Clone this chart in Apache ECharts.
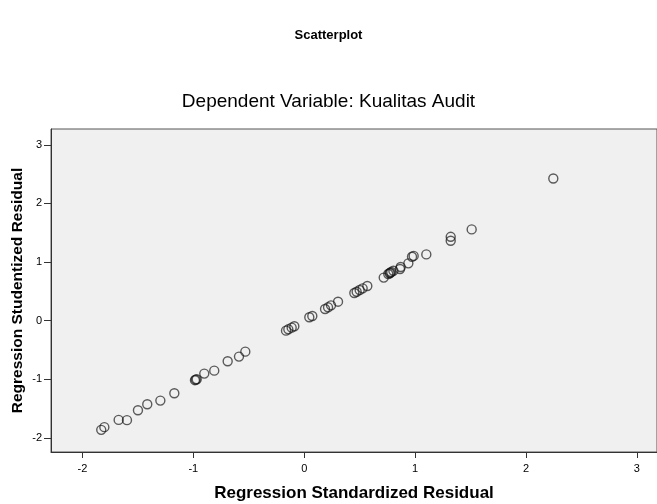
<!DOCTYPE html>
<html>
<head>
<meta charset="utf-8">
<script src="https://cdn.jsdelivr.net/npm/echarts@6/dist/echarts.min.js"></script>
<style>
  html, body { margin: 0; padding: 0; background: #fff; }
  #chart { width: 657px; height: 504px; }
</style>
</head>
<body>
<div id="chart"></div>
<script>
// standardized residual (x) vs studentized residual (y)
var stdResid = [-1.830, -1.802, -1.673, -1.598, -1.499, -1.415, -1.297, -1.171,
  -0.985, -0.978, -0.969, -0.901, -0.811, -0.690, -0.588, -0.531,
  -0.164, -0.143, -0.113, -0.089, 0.046, 0.073,
  0.188, 0.215, 0.242, 0.305, 0.452, 0.473, 0.500, 0.527, 0.569,
  0.717, 0.758, 0.770, 0.776, 0.785, 0.804, 0.864, 0.870, 0.939, 0.972, 0.987,
  1.101, 1.321, 1.321, 1.510, 2.246];
var studResid = [-1.862, -1.816, -1.692, -1.697, -1.527, -1.425, -1.363, -1.237,
  -1.015, -1.005, -0.999, -0.903, -0.852, -0.692, -0.613, -0.528,
  -0.170, -0.147, -0.119, -0.095, 0.058, 0.080,
  0.199, 0.228, 0.262, 0.324, 0.472, 0.494, 0.523, 0.552, 0.591,
  0.735, 0.796, 0.810, 0.818, 0.830, 0.852, 0.881, 0.915, 0.978, 1.090, 1.105,
  1.131, 1.431, 1.363, 1.557, 2.426];
var xTicks = [-2, -1, 0, 1, 2, 3];
var yTicks = [-2, -1, 0, 1, 2, 3];

var points = stdResid.map(function (x, i) { return [x, studResid[i]]; });

var chart = echarts.init(document.getElementById('chart'));
var font = '"Liberation Sans", Arial, sans-serif';

chart.setOption({
  animation: false,
  backgroundColor: '#fff',
  title: [{
    text: 'Scatterplot',
    left: 'center',
    top: 24,
    textStyle: { fontFamily: font, fontSize: 13, fontWeight: 'bold', color: '#000' }
  }, {
    text: 'Dependent Variable: Kualitas Audit',
    left: 'center',
    top: 87,
    textStyle: { fontFamily: font, fontSize: 19, fontWeight: 'normal', color: '#000' }
  }],
  grid: {
    show: true,
    left: 51,
    right: 0,
    top: 129,
    bottom: 52,
    outerBoundsMode: 'none',
    backgroundColor: '#f0f0f0',
    borderColor: '#555',
    borderWidth: 1
  },
  xAxis: {
    type: 'value',
    min: -2.283,
    max: 3.181,
    name: 'Regression Standardized Residual',
    nameLocation: 'middle',
    nameGap: 33,
    nameTextStyle: { fontFamily: font, fontSize: 17, fontWeight: 'bold', color: '#000' },
    axisLine: { show: true, onZero: false, lineStyle: { color: '#333', width: 1 } },
    axisTick: { show: true, length: 6, customValues: xTicks, lineStyle: { color: '#333' } },
    axisLabel: { customValues: xTicks, fontFamily: font, fontSize: 11, color: '#000', margin: 11 },
    splitLine: { show: false }
  },
  yAxis: {
    type: 'value',
    min: -2.24,
    max: 3.27,
    name: 'Regression Studentized Residual',
    nameLocation: 'middle',
    nameGap: 25,
    nameMoveOverlap: false,
    nameTextStyle: { fontFamily: font, fontSize: 15.5, fontWeight: 'bold', color: '#000' },
    axisLine: { show: true, onZero: false, lineStyle: { color: '#333', width: 1 } },
    axisTick: { show: true, length: 7, customValues: yTicks, lineStyle: { color: '#333' } },
    axisLabel: { customValues: yTicks, fontFamily: font, fontSize: 11, color: '#000', margin: 9 },
    splitLine: { show: false }
  },
  series: [{
    type: 'scatter',
    data: points,
    symbol: 'circle',
    symbolSize: 9,
    itemStyle: {
      color: 'rgba(0,0,0,0)',
      borderColor: 'rgba(20,20,20,0.85)',
      borderWidth: 1.4
    }
  }]
});
</script>
</body>
</html>
